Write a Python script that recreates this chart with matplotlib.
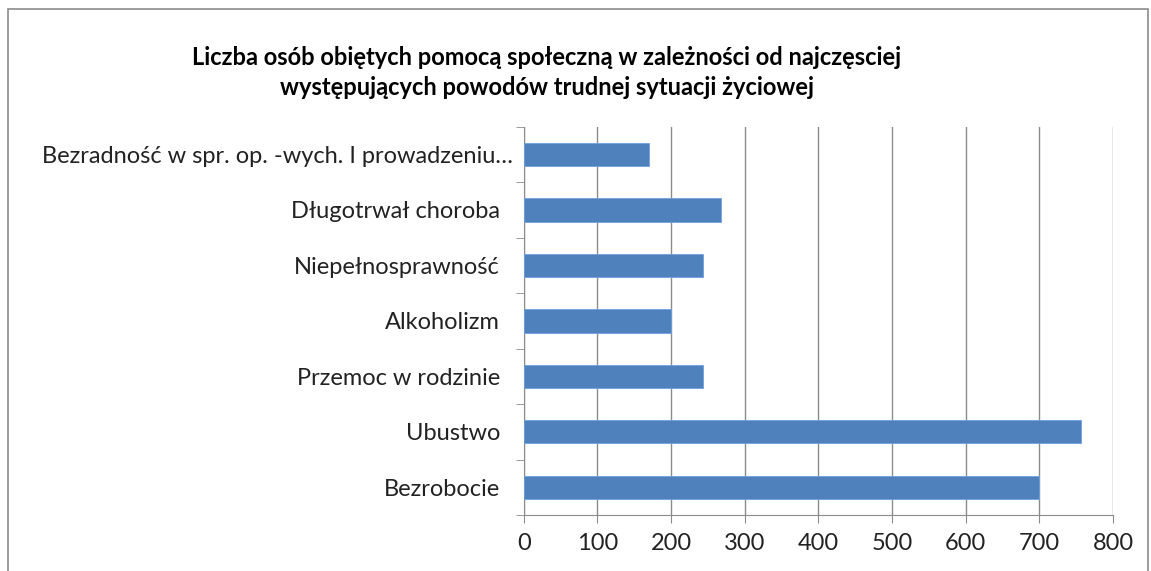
import numpy as np
import matplotlib.pyplot as plt
from matplotlib.patches import Rectangle
from matplotlib.transforms import ScaledTranslation

categories = ["Bezrobocie", "Ubustwo", "Przemoc w rodzinie", "Alkoholizm",
              "Niepełnosprawność", "Długotrwał choroba",
              "Bezradność w spr. op. -wych. I prowadzeniu…"]
values = [700, 756, 243, 200, 243, 268, 170]
xticks = [0, 100, 200, 300, 400, 500, 600, 700, 800]
title = ("Liczba osób obiętych pomocą społeczną w zależności od najczęsciej\n"
         "występujących powodów trudnej sytuacji życiowej")

plt.rcParams['font.family'] = ['Lato', 'DejaVu Sans']

fig = plt.figure(figsize=(11.51, 5.71), dpi=100)
ax = fig.add_axes([0.455, 0.098, 0.512, 0.680])

# ramka wykresu
fig.patches.append(Rectangle((0.007, -0.02), 0.99, 1.005, transform=fig.transFigure,
                             fill=False, edgecolor="#8c8c8c", linewidth=1.2))

y = np.arange(len(categories))
ax.barh(y, values, height=0.42, color="#4f81bd", edgecolor="#6fa0dc", linewidth=0.6, zorder=3)

ax.set_xlim(0, 800)
ax.set_ylim(-0.5, len(categories) - 0.5)
ax.set_xticks(xticks)
ax.set_xticklabels([str(t) for t in xticks], fontsize=17, color="#222222")
ax.set_yticks(y)
ax.set_yticklabels(categories, fontsize=17, color="#222222")
ax.tick_params(axis="y", length=0, pad=17)
ax.set_yticks(np.arange(-0.5, len(categories), 1), minor=True)
ax.tick_params(axis="y", which="minor", length=6, color="#8c8c8c")
ax.tick_params(axis="x", length=6, color="#8c8c8c", pad=7)

# obcięta etykieta sięga bliżej osi
lbl = ax.get_yticklabels()[-1]
lbl.set_transform(lbl.get_transform() + ScaledTranslation(0.13, 0, fig.dpi_scale_trans))

ax.grid(axis="x", color="#8c8c8c", linewidth=1, zorder=0)
for s in ["top", "right"]:
    ax.spines[s].set_visible(False)
for s in ["left", "bottom"]:
    ax.spines[s].set_color("#8c8c8c")

fig.text(0.475, 0.873, title, ha="center", va="center", fontsize=17,
         fontweight="bold", linespacing=1.35)

fig.savefig("out.png", dpi=100)
